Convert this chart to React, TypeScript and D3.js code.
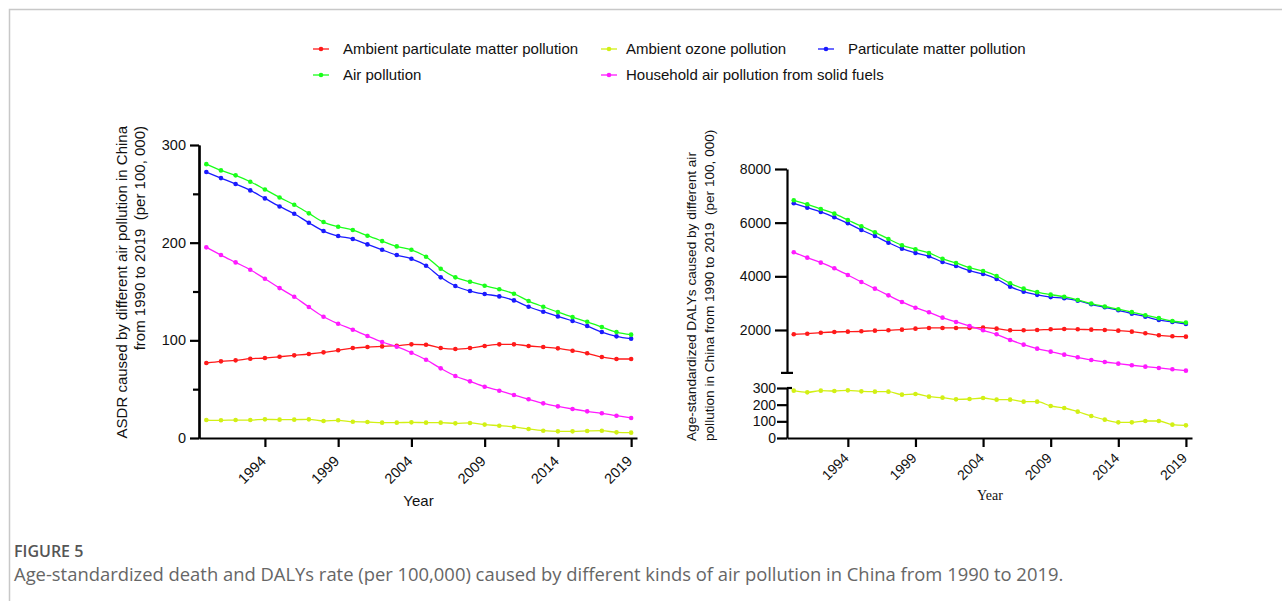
import React, { useRef, useEffect } from "react";
import * as d3 from "d3";

// years on the x axis
const years = [
  1990, 1991, 1992, 1993, 1994, 1995, 1996, 1997, 1998, 1999, 2000, 2001, 2002, 2003, 2004,
  2005, 2006, 2007, 2008, 2009, 2010, 2011, 2012, 2013, 2014, 2015, 2016, 2017, 2018, 2019,
];
const xTickYears = [1994, 1999, 2004, 2009, 2014, 2019];

const seriesNames = [
  "Ambient particulate matter pollution",
  "Ambient ozone pollution",
  "Particulate matter pollution",
  "Air pollution",
  "Household air pollution from solid fuels",
];
const seriesColors = ["#ff1a1a", "#d2f014", "#1a1aff", "#1aff1a", "#ff1aff"];

// ASDR (per 100,000)
const asdrAmbientPM = [
  76.8, 78.5, 79.5, 81.2, 81.9, 83.2, 84.6, 86, 87.7, 89.8, 92.1, 93.1, 93.8, 94.5, 95.9,
  95.5, 92.1, 91.1, 92.1, 94.2, 95.9, 95.9, 94.2, 93.1, 91.8, 89.4, 86.7, 82.9, 80.9, 80.9,
];
const asdrOzone = [
  18.4, 18.1, 18.4, 18.4, 19.1, 18.8, 18.8, 19.1, 17.4, 18.1, 16.7, 16.4, 15.7, 15.7, 16,
  15.7, 15.7, 15, 15.4, 13.7, 12.6, 11.3, 9.2, 7.5, 6.8, 6.8, 7.2, 7.5, 5.8, 5.5,
];
const asdrPM = [
  272.3, 266.1, 260, 253.5, 245.3, 237.1, 229.6, 220.4, 211.9, 206.8, 203.7, 198.2, 192.7,
  187.3, 183.5, 176.4, 164.5, 155.6, 150.5, 147.4, 145, 140.9, 134.4, 129.3, 124.5, 119.8,
  114.6, 108.5, 104.1, 101.7,
];
const asdrAir = [
  280.4, 274, 268.9, 262.4, 254.5, 246.3, 238.8, 230, 221.1, 216.3, 212.9, 207.1, 201.6,
  196.2, 192.7, 185.6, 173.3, 164.5, 160, 155.9, 152.3, 147.7, 140.2, 134.4, 129, 123.8, 119,
  113.6, 108.5, 105.8,
];
const asdrHousehold = [
  195.2, 187.3, 179.8, 172.3, 163.1, 153.5, 144.6, 134.1, 124.2, 117, 110.9, 104.4, 98.3,
  93.5, 87.3, 80.1, 71.3, 63.5, 58, 52.5, 48.4, 44, 39.6, 35.5, 32.4, 29.7, 27.3, 25.3, 22.8,
  20.5,
];

// age-standardized DALYs (per 100,000)
const dalyAmbientPM = [
  1840, 1862, 1899, 1925, 1937, 1950, 1975, 1988, 2012, 2050, 2075, 2075, 2075, 2075, 2087,
  2050, 1988, 1988, 2000, 2025, 2037, 2025, 2012, 2000, 1975, 1937, 1876, 1801, 1764, 1752,
];
const dalyOzone = [
  284, 274, 284, 282, 286, 280, 278, 278, 260, 264, 248, 242, 232, 234, 240, 230, 230, 218,
  218, 192, 180, 158, 132, 110, 94, 94, 102, 102, 80, 76,
];
const dalyPM = [
  6722, 6559, 6398, 6200, 5976, 5727, 5503, 5255, 5032, 4870, 4747, 4534, 4385, 4210, 4087,
  3901, 3614, 3428, 3310, 3225, 3180, 3093, 2957, 2845, 2734, 2608, 2496, 2373, 2298, 2224,
];
const dalyAir = [
  6834, 6685, 6510, 6335, 6100, 5865, 5641, 5392, 5157, 5008, 4870, 4657, 4497, 4322, 4199,
  4013, 3740, 3540, 3410, 3316, 3240, 3120, 2985, 2875, 2775, 2665, 2550, 2440, 2335, 2273,
];
const dalyHousehold = [
  4896, 4696, 4509, 4299, 4050, 3789, 3540, 3290, 3044, 2831, 2660, 2459, 2298, 2149, 1988,
  1840, 1627, 1453, 1304, 1192, 1080, 982, 882, 807, 745, 685, 633, 584, 535, 483,
];

const asdrTicks = [0, 100, 200, 300];
const asdrMinorTicks = [50, 150, 250];
const dalyTopTicks = [2000, 4000, 6000, 8000];
const dalyBottomTicks = [0, 100, 200, 300];

const W = 1282;
const H = 601;
const sans = "'Liberation Sans', Arial, sans-serif";
const plain = d3.format("d");

type Sel = d3.Selection<SVGGElement, unknown, null, undefined>;

// one line with dots
const drawSeries = (
  g: Sel,
  x: d3.ScaleLinear<number, number>,
  y: d3.ScaleLinear<number, number>,
  values: number[],
  color: string
) => {
  const pts = years.map((yr, i) => [yr, values[i]] as [number, number]);
  const line = d3
    .line<[number, number]>()
    .x((d) => x(d[0]))
    .y((d) => y(d[1]))
    .curve(d3.curveMonotoneX);
  g.append("path")
    .attr("d", line(pts))
    .attr("fill", "none")
    .attr("stroke", color)
    .attr("stroke-width", 1.3);
  g.selectAll(null)
    .data(pts)
    .enter()
    .append("circle")
    .attr("cx", (d) => x(d[0]))
    .attr("cy", (d) => y(d[1]))
    .attr("r", 2.3)
    .attr("fill", color);
};

const styleAxis = (g: Sel, fontSize: number) => {
  g.select(".domain").attr("stroke", "#000").attr("stroke-width", 2.2);
  g.selectAll(".tick line").attr("stroke", "#000").attr("stroke-width", 2.2);
  g.selectAll(".tick text")
    .attr("fill", "#111")
    .attr("font-family", sans)
    .attr("font-size", fontSize);
};

const xAxisRotated = (
  svg: Sel,
  x: d3.ScaleLinear<number, number>,
  y0: number,
  fontSize: number,
  labelY: number
) => {
  const g = svg
    .append("g")
    .attr("transform", `translate(0,${y0})`)
    .call(d3.axisBottom(x).tickValues(xTickYears).tickSize(9).tickSizeOuter(0).tickFormat(() => ""));
  styleAxis(g, fontSize);
  svg
    .selectAll(null)
    .data(xTickYears)
    .enter()
    .append("text")
    .attr("transform", (d) => `translate(${x(d) + 2},${labelY}) rotate(-45)`)
    .attr("text-anchor", "end")
    .attr("font-family", sans)
    .attr("font-size", fontSize)
    .attr("fill", "#111")
    .text((d) => String(d));
};

const App = () => {
  const ref = useRef<SVGSVGElement>(null);

  useEffect(() => {
    if (!ref.current) return;
    const svg = d3.select(ref.current) as unknown as Sel;
    svg.selectAll("*").remove();

    // card frame
    svg.append("rect").attr("width", W).attr("height", H).attr("fill", "#fff");
    svg
      .append("path")
      .attr("d", `M9.5,${H} L9.5,9.5 L${W},9.5`)
      .attr("fill", "none")
      .attr("stroke", "#c8c8c8")
      .attr("stroke-width", 1.5);

    // legend
    const legendPos = [
      [321, 49],
      [609, 49],
      [826, 49],
      [321, 75],
      [609, 75],
    ];
    seriesNames.forEach((name, i) => {
      const [lx, ly] = legendPos[i];
      const lg = svg.append("g");
      lg.append("line")
        .attr("x1", lx - 8)
        .attr("x2", lx + 8)
        .attr("y1", ly)
        .attr("y2", ly)
        .attr("stroke", seriesColors[i])
        .attr("stroke-width", 1.3);
      lg.append("circle").attr("cx", lx).attr("cy", ly).attr("r", 2.3).attr("fill", seriesColors[i]);
      lg.append("text")
        .attr("x", lx + (i === 1 || i === 4 ? 17 : 22))
        .attr("y", ly + 5)
        .attr("font-family", sans)
        .attr("font-size", 15)
        .attr("fill", "#111")
        .text(name);
    });

    // ---------- left: ASDR ----------
    const x1 = d3.scaleLinear().domain([1989.5, 2019.4]).range([199, 637]);
    const y1 = d3.scaleLinear().domain([0, 300]).range([438, 145]);

    const gy1 = svg
      .append("g")
      .attr("transform", "translate(199,0)")
      .call(d3.axisLeft(y1).tickValues(asdrTicks).tickSize(9).tickPadding(4).tickSizeOuter(0).tickFormat(plain));
    styleAxis(gy1, 14.5);
    const gy1m = svg
      .append("g")
      .attr("transform", "translate(199,0)")
      .call(d3.axisLeft(y1).tickValues(asdrMinorTicks).tickSize(6).tickSizeOuter(0).tickFormat(() => ""));
    styleAxis(gy1m, 14.5);
    xAxisRotated(svg, x1, 438, 14.5, 462);

    const p1 = svg.append("g");
    const asdrSeries = [asdrAmbientPM, asdrOzone, asdrPM, asdrAir, asdrHousehold];
    [1, 0, 4, 2, 3].forEach((k) => drawSeries(p1, x1, y1, asdrSeries[k], seriesColors[k]));

    svg
      .append("text")
      .attr("x", 418.5)
      .attr("y", 506)
      .attr("text-anchor", "middle")
      .attr("font-family", sans)
      .attr("font-size", 15)
      .attr("fill", "#111")
      .text("Year");
    const yl1 = svg.append("g").attr("font-family", sans).attr("font-size", 15).attr("fill", "#111");
    yl1.append("text")
      .attr("transform", "translate(127,126) rotate(-90)")
      .attr("text-anchor", "end")
      .text("ASDR caused by different air pollution in China");
    yl1.append("text")
      .attr("transform", "translate(145,126) rotate(-90)")
      .attr("text-anchor", "end")
      .attr("xml:space", "preserve")
      .text("from 1990 to 2019  (per 100, 000)");

    // ---------- right: DALYs (broken y axis) ----------
    const x2 = d3.scaleLinear().domain([1989.5, 2019.45]).range([787, 1192]);
    const y2top = d3.scaleLinear().domain([400, 8000]).range([372.9, 169]);
    const y2bot = d3.scaleLinear().domain([0, 300]).range([438, 388]);

    const gy2t = svg
      .append("g")
      .attr("transform", "translate(787,0)")
      .call(d3.axisLeft(y2top).tickValues(dalyTopTicks).tickSize(12).tickPadding(4).tickSizeOuter(0).tickFormat(plain));
    styleAxis(gy2t, 14);
    const gy2b = svg
      .append("g")
      .attr("transform", "translate(787,0)")
      .call(d3.axisLeft(y2bot).tickValues(dalyBottomTicks).tickSize(10).tickPadding(1).tickSizeOuter(0).tickFormat(plain));
    styleAxis(gy2b, 14);
    // break caps
    svg
      .append("line")
      .attr("x1", 781)
      .attr("x2", 793)
      .attr("y1", y2top(400))
      .attr("y2", y2top(400))
      .attr("stroke", "#000")
      .attr("stroke-width", 2.2);
    svg
      .append("line")
      .attr("x1", 787)
      .attr("x2", 792)
      .attr("y1", y2bot(300))
      .attr("y2", y2bot(300))
      .attr("stroke", "#000")
      .attr("stroke-width", 2.2);
    xAxisRotated(svg, x2, 438, 14, 459);

    const p2 = svg.append("g");
    const dalyTopSeries = [dalyAmbientPM, null, dalyPM, dalyAir, dalyHousehold];
    [0, 4, 2, 3].forEach((k) => drawSeries(p2, x2, y2top, dalyTopSeries[k] as number[], seriesColors[k]));
    drawSeries(p2, x2, y2bot, dalyOzone, seriesColors[1]);

    svg
      .append("text")
      .attr("x", 990)
      .attr("y", 500)
      .attr("text-anchor", "middle")
      .attr("font-family", "'Liberation Serif', 'Times New Roman', serif")
      .attr("font-size", 14)
      .attr("fill", "#111")
      .text("Year");
    const yl2 = svg.append("g").attr("font-family", sans).attr("font-size", 13.6).attr("fill", "#111");
    yl2.append("text")
      .attr("transform", "translate(696,441) rotate(-90)")
      .text("Age-standardized DALYs caused by different air");
    yl2.append("text")
      .attr("transform", "translate(714,441) rotate(-90)")
      .attr("xml:space", "preserve")
      .text("pollution in China from 1990 to 2019  (per 100, 000)");

    // caption
    svg
      .append("text")
      .attr("x", 14)
      .attr("y", 557)
      .attr("font-family", "'Open Sans', sans-serif")
      .attr("font-size", 16)
      .attr("font-weight", 600)
      .attr("fill", "#555")
      .text("FIGURE 5");
    svg
      .append("text")
      .attr("x", 14)
      .attr("y", 581)
      .attr("font-family", "'Open Sans', sans-serif")
      .attr("font-size", 18.4)
      .attr("fill", "#666")
      .text(
        "Age-standardized death and DALYs rate (per 100,000) caused by different kinds of air pollution in China from 1990 to 2019."
      );
  }, []);

  return (
    <svg
      ref={ref}
      width={W}
      height={H}
      style={{ position: "absolute", left: 0, top: 0, display: "block" }}
    />
  );
};

export default App;
